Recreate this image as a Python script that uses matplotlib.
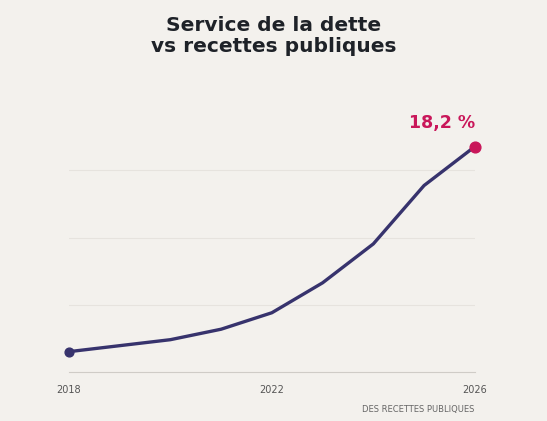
import matplotlib.pyplot as plt

years = [2018, 2019, 2020, 2021, 2022, 2023, 2024, 2025, 2026]
ratio = [4.5, 4.9, 5.3, 6.0, 7.1, 9.1, 11.7, 15.6, 18.2]
xticks = [2018, 2022, 2026]
grid_levels = [7.65, 12.1, 16.65]

bg = '#f3f1ed'
navy = '#37336d'
pink = '#c9175a'

fig = plt.figure(figsize=(5.47, 4.21), dpi=100, facecolor=bg)
ax = fig.add_axes([0.126, 0.116, 0.742, 0.646], facecolor=bg)

ax.plot(years, ratio, color=navy, lw=2.4, solid_capstyle='round', zorder=3,
        clip_on=False)
ax.scatter([years[0]], [ratio[0]], s=40, color=navy, zorder=4, clip_on=False)
ax.scatter([years[-1]], [ratio[-1]], s=60, color=pink, zorder=4, clip_on=False)
ax.text(years[-1] - 0.65, ratio[-1] + 1.0, '18,2 %', color=pink,
        fontsize=12.5, fontweight='bold', ha='center', va='bottom')

ax.set_xlim(2018, 2026)
ax.set_ylim(3.13, 21.3)
for g in grid_levels:
    ax.axhline(g, color='#e6e3de', lw=0.8, zorder=1)
ax.set_yticks([])
ax.set_xticks(xticks)
ax.tick_params(axis='x', length=0, pad=9, labelsize=7, labelcolor='#555555')
for s in ['top', 'right', 'left']:
    ax.spines[s].set_visible(False)
ax.spines['bottom'].set_color('#cfccc7')

fig.text(0.5, 0.915, 'Service de la dette\nvs recettes publiques', ha='center',
         va='center', fontsize=14.5, fontweight='bold', color='#1e2228',
         linespacing=1.15)
fig.text(0.868, 0.028, 'DES RECETTES PUBLIQUES', ha='right', va='center',
         fontsize=6, color='#666666')

fig.savefig('out.png', dpi=100, facecolor=bg)
